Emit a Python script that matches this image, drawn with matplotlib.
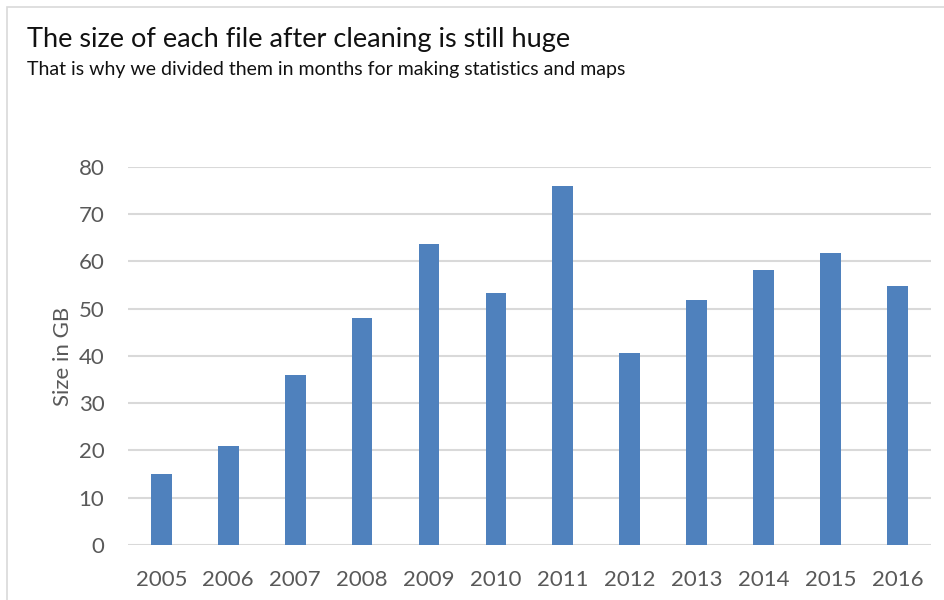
import matplotlib
matplotlib.use("Agg")
import matplotlib.pyplot as plt
from matplotlib.patches import Rectangle

years = ['2005', '2006', '2007', '2008', '2009', '2010',
         '2011', '2012', '2013', '2014', '2015', '2016']
size_gb = [15.0, 21.0, 36.0, 48.0, 63.7, 53.3, 76.0, 40.6, 51.9, 58.2, 61.9, 54.8]
y_ticks = [0, 10, 20, 30, 40, 50, 60, 70, 80]

plt.rcParams['font.family'] = ['Lato', 'DejaVu Sans']

fig = plt.figure(figsize=(9.45, 6), dpi=100)
ax = fig.add_axes([0.1354, 0.0917, 0.8496, 0.63])

# grey frame of the chart area
fig.patches.append(Rectangle((7 / 945, -0.1), 1.2, (600 - 7) / 600 + 0.1,
                             transform=fig.transFigure, fill=False,
                             edgecolor='#D9D9D9', linewidth=1.2))

ax.bar(years, size_gb, width=0.31, color='#4F81BD', zorder=3)
ax.set_ylim(0, 80)
ax.set_xlim(-0.5, len(years) - 0.5)
ax.set_yticks(y_ticks)
ax.yaxis.grid(True, color='#D9D9D9', linewidth=1.5, zorder=0)
for s in ['top', 'right', 'left', 'bottom']:
    ax.spines[s].set_visible(False)
ax.tick_params(axis='both', length=0, colors='#595959', labelsize=16)
ax.tick_params(axis='x', pad=18)
ax.tick_params(axis='y', pad=17)
ax.set_ylabel('Size in GB', color='#595959', fontsize=16, labelpad=4)

fig.text(27 / 945, 1 - 39 / 600, 'The size of each file after cleaning is still huge',
         fontsize=19.5, color='#111111', va='center', ha='left')
fig.text(27 / 945, 1 - 70 / 600, 'That is why we divided them in months for making statistics and maps',
         fontsize=14, color='#111111', va='center', ha='left')

fig.savefig('out.png', dpi=100)
